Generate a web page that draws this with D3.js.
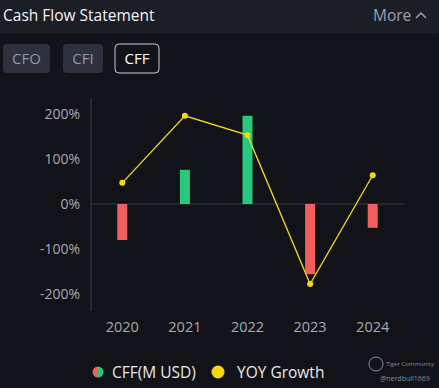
<!DOCTYPE html>
<html>
<head>
<meta charset="utf-8">
<script src="https://cdn.jsdelivr.net/npm/d3@7"></script>
<style>
  body { margin: 0; background: #111318; }
  svg { display: block; font-family: "Open Sans", "Noto Sans", sans-serif; }
</style>
</head>
<body>
<script>
var w = 439,
    h = 388;

// data
var years = ['2020', '2021', '2022', '2023', '2024'];
var cff = [-80, 76, 196, -156, -53];          // CFF (M USD), hidden axis
var yoy = [47, 196, 153, -178, 64];           // YOY growth %
var yTicks = [-200, -100, 0, 100, 200];
var tabs = ['CFO', 'CFI', 'CFF'];

var svg = d3.select('body').append('svg')
  .attr('width', w)
  .attr('height', h);

// header
svg.append('rect').attr('width', w).attr('height', 33).attr('fill', '#1b1e25');
svg.append('text')
  .attr('x', 3).attr('y', 21)
  .attr('fill', '#f2f3f5')
  .style('font-size', '15.5px')
  .text('Cash Flow Statement');
svg.append('text')
  .attr('x', 373).attr('y', 21)
  .attr('fill', '#9aa0b2')
  .style('font-size', '15.5px')
  .text('More');
svg.append('path')
  .attr('d', 'M416,18 L421,13 L426,18')
  .attr('fill', 'none')
  .attr('stroke', '#9aa0b2')
  .attr('stroke-width', 1.5);

// tabs
var tabX = [3, 63, 115], tabW = [47, 40, 44];
var tab = svg.selectAll('g.tab')
  .data(tabs)
  .enter()
  .append('g')
  .classed('tab', true)
  .attr('transform', function(d, i) { return 'translate(' + tabX[i] + ',44)'; });
tab.append('rect')
  .attr('width', function(d, i) { return tabW[i]; })
  .attr('height', 29)
  .attr('rx', 4)
  .attr('fill', function(d, i) { return i === 2 ? '#111318' : '#2c313d'; })
  .attr('stroke', function(d, i) { return i === 2 ? '#c9ccd2' : 'none'; });
tab.append('text')
  .attr('x', function(d, i) { return tabW[i] / 2; })
  .attr('y', 20)
  .attr('text-anchor', 'middle')
  .attr('fill', function(d, i) { return i === 2 ? '#ffffff' : '#8f97a8'; })
  .style('font-size', '15px')
  .text(function(d) { return d; });

// scales
var x = d3.scaleBand().domain(years).range([91, 404]);
var y = d3.scaleLinear().domain([-200, 200]).range([294, 114]);
var yBar = d3.scaleLinear().domain([-200, 200]).range([294, 114]);

// y axis
svg.append('line')
  .attr('x1', 91).attr('x2', 91)
  .attr('y1', 98).attr('y2', 311)
  .attr('stroke', '#3a3e49');
svg.append('line')
  .attr('x1', 91).attr('x2', 404)
  .attr('y1', y(0)).attr('y2', y(0))
  .attr('stroke', '#3a3e49');

svg.selectAll('text.ytick')
  .data(yTicks)
  .enter()
  .append('text')
  .classed('ytick', true)
  .attr('x', 80)
  .attr('y', function(d) { return y(d) + 5; })
  .attr('text-anchor', 'end')
  .attr('fill', '#a6a9b3')
  .style('font-size', '14px')
  .text(function(d) { return d + '%'; });

svg.selectAll('text.xtick')
  .data(years)
  .enter()
  .append('text')
  .classed('xtick', true)
  .attr('x', function(d) { return x(d) + x.bandwidth() / 2; })
  .attr('y', 332)
  .attr('text-anchor', 'middle')
  .attr('fill', '#a6a9b3')
  .style('font-size', '14.5px')
  .text(function(d) { return d; });

// bars
svg.selectAll('rect.bar')
  .data(cff)
  .enter()
  .append('rect')
  .classed('bar', true)
  .attr('x', function(d, i) { return x(years[i]) + x.bandwidth() / 2 - 5; })
  .attr('width', 10)
  .attr('y', function(d) { return Math.min(yBar(d), yBar(0)); })
  .attr('height', function(d) { return Math.abs(yBar(d) - yBar(0)); })
  .attr('fill', function(d) { return d < 0 ? '#f25e5c' : '#27c97e'; });

// growth line
var line = d3.line()
  .x(function(d, i) { return x(years[i]) + x.bandwidth() / 2; })
  .y(function(d) { return y(d); });

svg.append('path')
  .datum(yoy)
  .attr('d', line)
  .attr('fill', 'none')
  .attr('stroke', '#f5d90f')
  .attr('stroke-width', 1.3);

svg.selectAll('circle.pt')
  .data(yoy)
  .enter()
  .append('circle')
  .classed('pt', true)
  .attr('cx', function(d, i) { return x(years[i]) + x.bandwidth() / 2; })
  .attr('cy', function(d) { return y(d); })
  .attr('r', 3)
  .attr('fill', '#f5d90f');

// legend
var lg = svg.append('g').attr('transform', 'translate(98,372)');
lg.append('path').attr('d', d3.arc()({innerRadius: 0, outerRadius: 5.5, startAngle: Math.PI, endAngle: 2 * Math.PI})).attr('fill', '#f25e5c');
lg.append('path').attr('d', d3.arc()({innerRadius: 0, outerRadius: 5.5, startAngle: 0, endAngle: Math.PI})).attr('fill', '#27c97e');
lg.append('text').attr('x', 14).attr('y', 6).attr('fill', '#e8e9ec').style('font-size', '15.5px').text('CFF(M USD)');
lg.append('circle').attr('cx', 120).attr('cy', 0).attr('r', 6.5).attr('fill', '#f8d70a');
lg.append('text').attr('x', 139).attr('y', 6).attr('fill', '#e8e9ec').style('font-size', '15.5px').text('YOY Growth');

// watermark
var wm = svg.append('g').attr('fill', '#8a8d94');
wm.append('circle').attr('cx', 376).attr('cy', 364).attr('r', 7)
  .attr('fill', 'none').attr('stroke', '#8a8d94').attr('stroke-width', 1);
wm.append('text').attr('x', 386).attr('y', 366).style('font-size', '6px').text('Tiger Community');
wm.append('text').attr('x', 380).attr('y', 381).style('font-size', '7px').text('@nerdbull1669');
</script>
</body>
</html>
